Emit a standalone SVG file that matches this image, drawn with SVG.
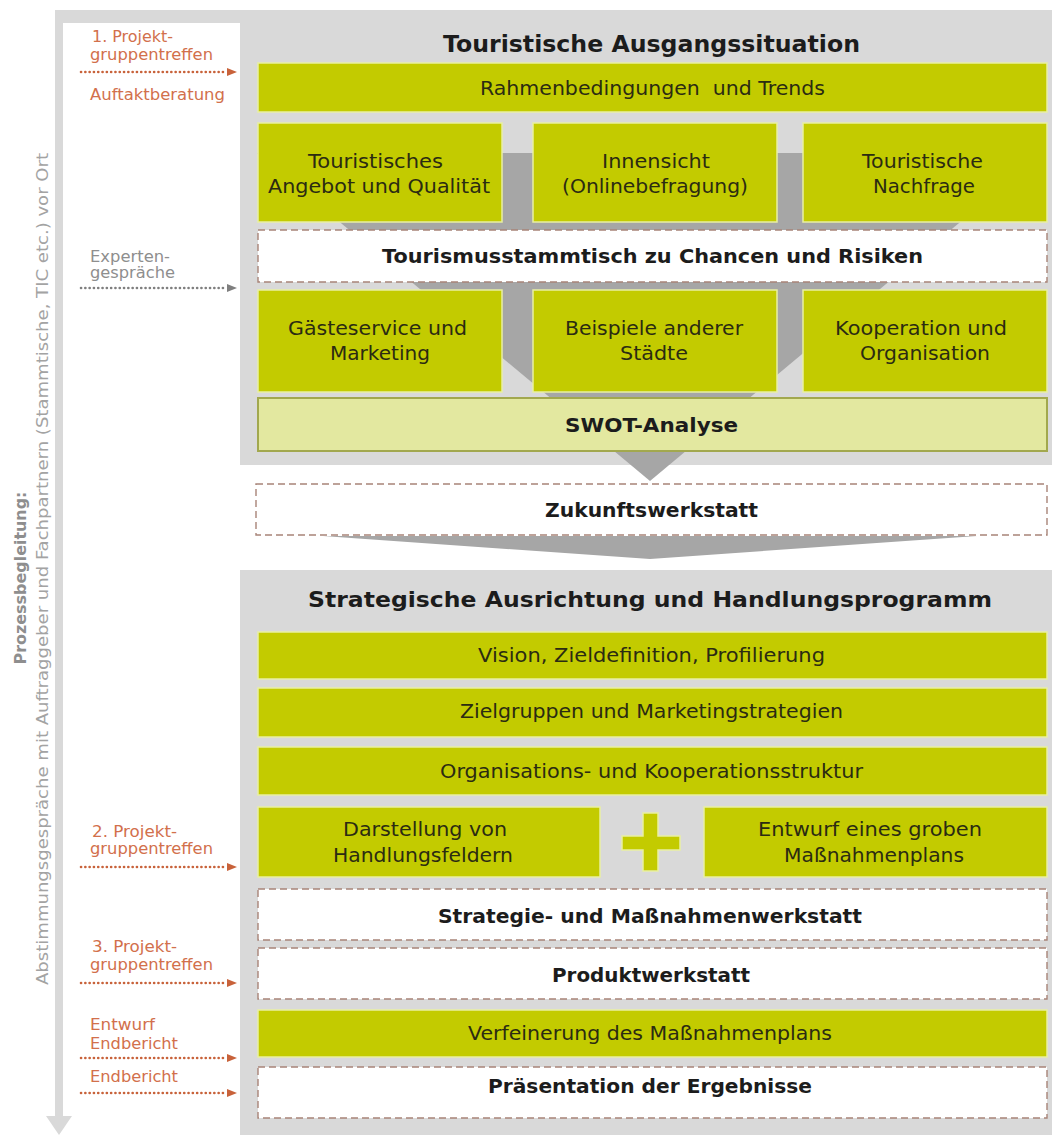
<svg xmlns="http://www.w3.org/2000/svg" width="1056" height="1135" viewBox="0 0 1056 1135">
<defs>
<style>
.panel{fill:#d9d9d9}
.g{fill:#c3cb00;stroke:#e9efa2;stroke-width:1.5}
.d{fill:#ffffff;stroke:#a88478;stroke-width:1.4;stroke-dasharray:7 4}
.swot{fill:#e3e8a0;stroke:#a2a84e;stroke-width:2}
.flow{fill:#a6a6a6}
.t{font-family:"DejaVu Sans",Verdana,sans-serif;font-size:20px;fill:#2b2b12}
.b{font-family:"DejaVu Sans",Verdana,sans-serif;font-weight:bold;fill:#1c1c1c}
.lbl{font-family:"DejaVu Sans",Verdana,sans-serif;font-size:15.5px;fill:#d2704c}
.lblg{font-family:"DejaVu Sans",Verdana,sans-serif;font-size:15.5px;fill:#8e8e8e}
.side{font-family:"DejaVu Sans",Verdana,sans-serif;font-size:16px;fill:#a3a3a3}
.sideb{font-family:"DejaVu Sans",Verdana,sans-serif;font-size:16px;font-weight:bold;fill:#8e8e8e}
.dot{fill:none;stroke-width:2.6;stroke-linecap:round;stroke-dasharray:0.1 4.2}
</style>
<marker id="ao" viewBox="0 0 10 8" refX="0" refY="4" markerWidth="10" markerHeight="8" markerUnits="userSpaceOnUse" orient="auto"><path d="M0,0 L10,4 L0,8 z" fill="#c8623a"/></marker>
<marker id="ag" viewBox="0 0 10 8" refX="0" refY="4" markerWidth="10" markerHeight="8" markerUnits="userSpaceOnUse" orient="auto"><path d="M0,0 L10,4 L0,8 z" fill="#7f7f7f"/></marker>
</defs>

<g id="process-axis">
<rect class="panel" x="55" y="10" width="185" height="13"/>
<rect class="panel" x="55" y="10" width="8" height="1108"/>
<polygon class="panel" points="46,1116 72,1116 59,1135"/>
<text class="sideb" transform="translate(26,578) rotate(-90)" text-anchor="middle" textLength="173" lengthAdjust="spacingAndGlyphs">Prozessbegleitung:</text>
<text class="side" transform="translate(48,569) rotate(-90)" text-anchor="middle" textLength="832" lengthAdjust="spacingAndGlyphs">Abstimmungsgespräche mit Auftraggeber und Fachpartnern (Stammtische, TIC etc.) vor Ort</text>
</g>

<g id="panel-top">
<rect class="panel" x="240" y="10" width="812" height="455"/>
<text class="b" x="443" y="52" font-size="23" textLength="417" lengthAdjust="spacingAndGlyphs">Touristische Ausgangssituation</text>
</g>

<g id="panel-bottom">
<rect class="panel" x="240" y="570" width="812" height="565"/>
<text class="b" x="308" y="607" font-size="22" textLength="684" lengthAdjust="spacingAndGlyphs">Strategische Ausrichtung und Handlungsprogramm</text>
</g>

<g id="flow-arrows">
<polygon class="flow" points="257,153 1043,153 650,481"/>
<polygon class="flow" points="323,536 977,536 650,559"/>
</g>

<g id="n-rahmen"><rect class="g" x="258" y="63" width="789" height="49"/>
<text class="t" x="480" y="95" textLength="345" lengthAdjust="spacingAndGlyphs" xml:space="preserve">Rahmenbedingungen  und Trends</text></g>

<g id="n-angebot"><rect class="g" x="258" y="123" width="244" height="99"/>
<text class="t" x="308" y="168" textLength="135" lengthAdjust="spacingAndGlyphs">Touristisches</text>
<text class="t" x="268" y="193" textLength="222" lengthAdjust="spacingAndGlyphs">Angebot und Qualität</text></g>

<g id="n-innensicht"><rect class="g" x="533" y="123" width="244" height="99"/>
<text class="t" x="602" y="168" textLength="108" lengthAdjust="spacingAndGlyphs">Innensicht</text>
<text class="t" x="562" y="193" textLength="186" lengthAdjust="spacingAndGlyphs">(Onlinebefragung)</text></g>

<g id="n-nachfrage"><rect class="g" x="803" y="123" width="244" height="99"/>
<text class="t" x="862" y="168" textLength="121" lengthAdjust="spacingAndGlyphs">Touristische</text>
<text class="t" x="873" y="193" textLength="102" lengthAdjust="spacingAndGlyphs">Nachfrage</text></g>

<g id="n-stammtisch"><rect class="d" x="258" y="230" width="789" height="52"/>
<text class="b" x="382" y="263" font-size="20" textLength="541" lengthAdjust="spacingAndGlyphs">Tourismusstammtisch zu Chancen und Risiken</text></g>

<g id="n-gaesteservice"><rect class="g" x="258" y="290" width="244" height="102"/>
<text class="t" x="288" y="335" textLength="179" lengthAdjust="spacingAndGlyphs">Gästeservice und</text>
<text class="t" x="330" y="360" textLength="100" lengthAdjust="spacingAndGlyphs">Marketing</text></g>

<g id="n-beispiele"><rect class="g" x="533" y="290" width="244" height="102"/>
<text class="t" x="565" y="335" textLength="178" lengthAdjust="spacingAndGlyphs">Beispiele anderer</text>
<text class="t" x="620" y="360" textLength="68" lengthAdjust="spacingAndGlyphs">Städte</text></g>

<g id="n-kooperation"><rect class="g" x="803" y="290" width="244" height="102"/>
<text class="t" x="835" y="335" textLength="172" lengthAdjust="spacingAndGlyphs">Kooperation und</text>
<text class="t" x="860" y="360" textLength="130" lengthAdjust="spacingAndGlyphs">Organisation</text></g>

<g id="n-swot"><rect class="swot" x="258" y="398" width="789" height="53"/>
<text class="b" x="565" y="432" font-size="19" textLength="173" lengthAdjust="spacingAndGlyphs">SWOT-Analyse</text></g>

<g id="n-zukunft"><rect class="d" x="256" y="484" width="791" height="51"/>
<text class="b" x="545" y="517" font-size="20" textLength="213" lengthAdjust="spacingAndGlyphs">Zukunftswerkstatt</text></g>

<g id="n-vision"><rect class="g" x="258" y="632" width="789" height="47"/>
<text class="t" x="478" y="662" textLength="347" lengthAdjust="spacingAndGlyphs">Vision, Zieldefinition, Profilierung</text></g>

<g id="n-zielgruppen"><rect class="g" x="258" y="688" width="789" height="49"/>
<text class="t" x="460" y="718" textLength="383" lengthAdjust="spacingAndGlyphs">Zielgruppen und Marketingstrategien</text></g>

<g id="n-organisation"><rect class="g" x="258" y="747" width="789" height="48"/>
<text class="t" x="440" y="778" textLength="423" lengthAdjust="spacingAndGlyphs">Organisations- und Kooperationsstruktur</text></g>

<g id="n-handlungsfelder"><rect class="g" x="258" y="807" width="342" height="70"/>
<text class="t" x="343" y="836" textLength="164" lengthAdjust="spacingAndGlyphs">Darstellung von</text>
<text class="t" x="333" y="862" textLength="180" lengthAdjust="spacingAndGlyphs">Handlungsfeldern</text></g>

<g id="n-plus">
<path class="g" d="M643,813 H658 V836 H680 V850 H658 V871 H643 V850 H622 V836 H643 Z"/>
</g>

<g id="n-massnahmenplan"><rect class="g" x="704" y="807" width="343" height="70"/>
<text class="t" x="758" y="836" textLength="224" lengthAdjust="spacingAndGlyphs">Entwurf eines groben</text>
<text class="t" x="784" y="862" textLength="180" lengthAdjust="spacingAndGlyphs">Maßnahmenplans</text></g>

<g id="n-strategiewerkstatt"><rect class="d" x="258" y="889" width="789" height="51"/>
<text class="b" x="438" y="923" font-size="19" textLength="424" lengthAdjust="spacingAndGlyphs">Strategie- und Maßnahmenwerkstatt</text></g>

<g id="n-produktwerkstatt"><rect class="d" x="258" y="948" width="789" height="51"/>
<text class="b" x="552" y="982" font-size="19" textLength="198" lengthAdjust="spacingAndGlyphs">Produktwerkstatt</text></g>

<g id="n-verfeinerung"><rect class="g" x="258" y="1010" width="789" height="47"/>
<text class="t" x="468" y="1040" textLength="364" lengthAdjust="spacingAndGlyphs">Verfeinerung des Maßnahmenplans</text></g>

<g id="n-praesentation"><rect class="d" x="258" y="1067" width="789" height="51"/>
<text class="b" x="488" y="1093" font-size="19" textLength="324" lengthAdjust="spacingAndGlyphs">Präsentation der Ergebnisse</text></g>

<g id="labels">
<text class="lbl" x="92" y="42" textLength="81" lengthAdjust="spacingAndGlyphs">1. Projekt-</text>
<text class="lbl" x="90" y="60" textLength="123" lengthAdjust="spacingAndGlyphs">gruppentreffen</text>
<text class="lbl" x="90" y="100" textLength="135" lengthAdjust="spacingAndGlyphs">Auftaktberatung</text>
<text class="lblg" x="90" y="262" textLength="80" lengthAdjust="spacingAndGlyphs">Experten-</text>
<text class="lblg" x="90" y="278" textLength="85" lengthAdjust="spacingAndGlyphs">gespräche</text>
<text class="lbl" x="92" y="837" textLength="85" lengthAdjust="spacingAndGlyphs">2. Projekt-</text>
<text class="lbl" x="90" y="854" textLength="123" lengthAdjust="spacingAndGlyphs">gruppentreffen</text>
<text class="lbl" x="92" y="952" textLength="85" lengthAdjust="spacingAndGlyphs">3. Projekt-</text>
<text class="lbl" x="90" y="970" textLength="123" lengthAdjust="spacingAndGlyphs">gruppentreffen</text>
<text class="lbl" x="90" y="1030" textLength="65" lengthAdjust="spacingAndGlyphs">Entwurf</text>
<text class="lbl" x="90" y="1049" textLength="88" lengthAdjust="spacingAndGlyphs">Endbericht</text>
<text class="lbl" x="90" y="1082" textLength="88" lengthAdjust="spacingAndGlyphs">Endbericht</text>
</g>

<g id="connectors">
<line class="dot" x1="81" y1="72" x2="227" y2="72" stroke="#c8623a" marker-end="url(#ao)"/>
<line class="dot" x1="81" y1="288" x2="227" y2="288" stroke="#7f7f7f" marker-end="url(#ag)"/>
<line class="dot" x1="81" y1="867" x2="227" y2="867" stroke="#c8623a" marker-end="url(#ao)"/>
<line class="dot" x1="81" y1="983" x2="227" y2="983" stroke="#c8623a" marker-end="url(#ao)"/>
<line class="dot" x1="81" y1="1058" x2="227" y2="1058" stroke="#c8623a" marker-end="url(#ao)"/>
<line class="dot" x1="81" y1="1093" x2="227" y2="1093" stroke="#c8623a" marker-end="url(#ao)"/>
</g>
</svg>
